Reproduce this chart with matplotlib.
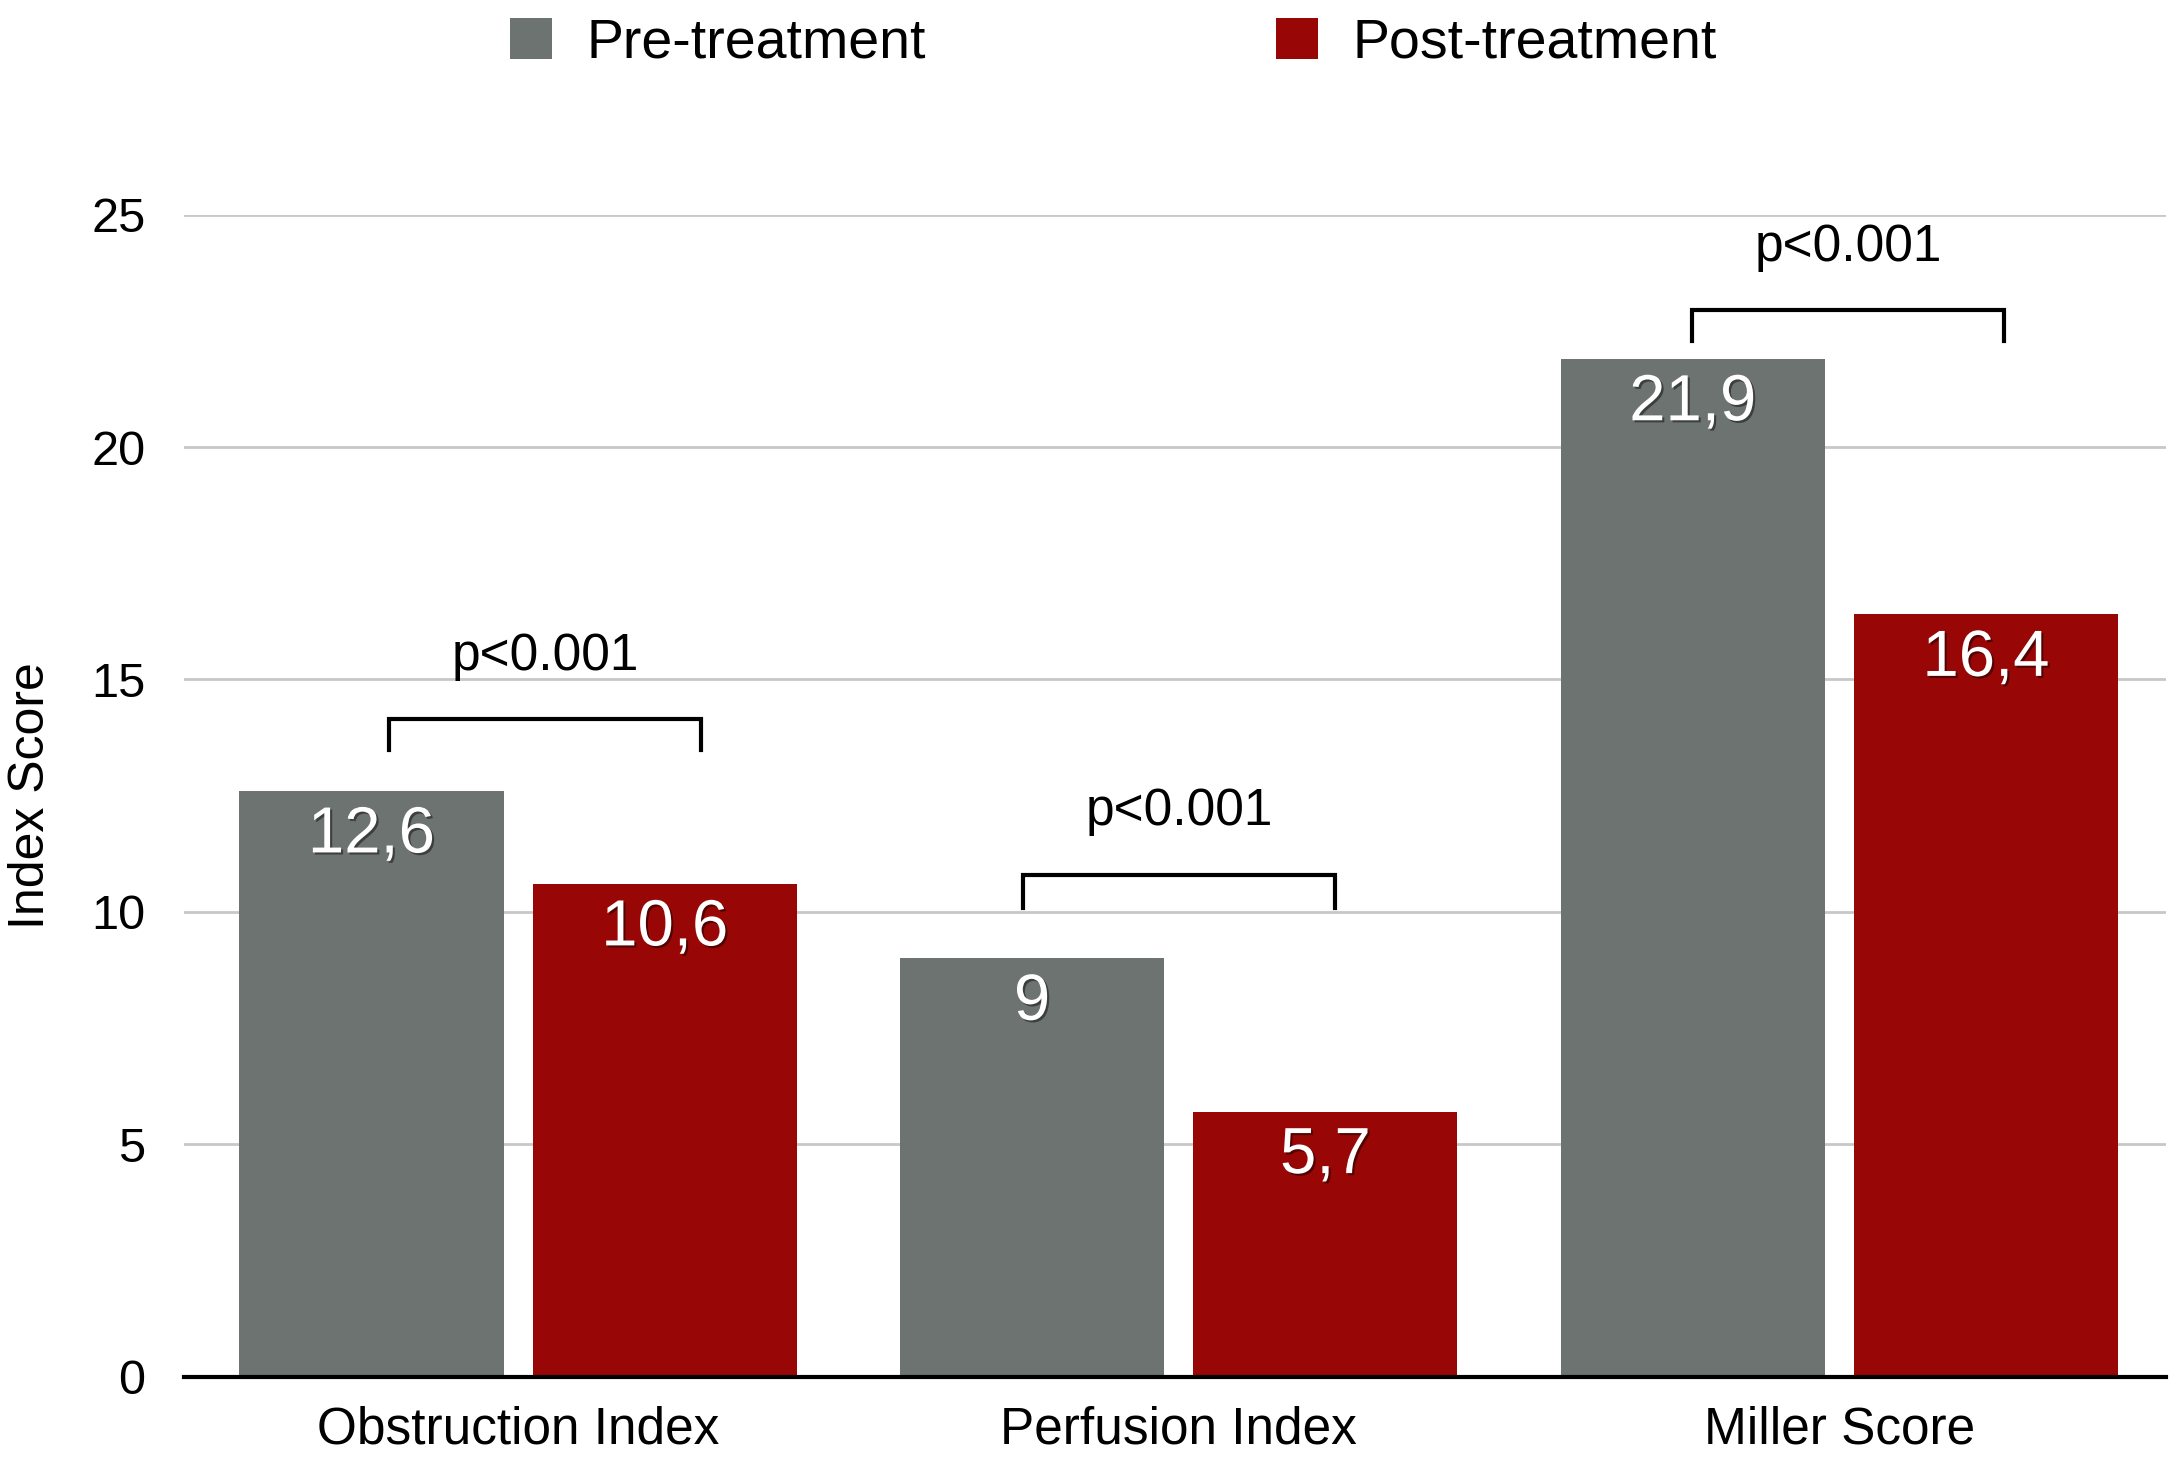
## grouped bar chart: index scores before / after treatment
import matplotlib
matplotlib.use("Agg")
from matplotlib import pyplot as plt
from matplotlib.patches import Patch
import matplotlib.patheffects as pe
import numpy as np

plt.rcParams['font.family'] = ['Liberation Sans', 'DejaVu Sans']

categories = ["Obstruction Index", "Perfusion Index", "Miller Score"]
pre_values = [12.6, 9.0, 21.9]
post_values = [10.6, 5.7, 16.4]
pre_labels = ["12,6", "9", "21,9"]
post_labels = ["10,6", "5,7", "16,4"]
series_names = ["Pre-treatment", "Post-treatment"]
y_ticks = [0, 5, 10, 15, 20, 25]

# significance brackets: (left offset, right offset, top, foot) per group
p_text = "p<0.001"
bracket_left = [-0.195, -0.235, -0.223]
bracket_right = [0.277, 0.237, 0.250]
bracket_top = [14.14, 10.8, 22.94]
bracket_foot = [13.48, 10.08, 22.28]

grey = "#6d7370"
red = "#990606"

fig = plt.figure(figsize=(21.75, 14.61), dpi=100)
ax = fig.add_axes([0.0848, 0.0578, 0.9112, 0.7952])

x = np.arange(len(categories))
w = 0.40
off = 0.222
ax.bar(x - off, pre_values, w, color=grey, zorder=2)
ax.bar(x + off, post_values, w, color=red, zorder=2)

shadow = [pe.withSimplePatchShadow(offset=(1.5, -1.5), shadow_rgbFace="black", alpha=0.45)]
for i in range(len(categories)):
    ax.annotate(pre_labels[i], (x[i] - off, pre_values[i]), xytext=(0, -32),
                textcoords="offset points", ha="center", va="center",
                color="white", fontsize=47, path_effects=shadow, zorder=3)
    ax.annotate(post_labels[i], (x[i] + off, post_values[i]), xytext=(0, -32),
                textcoords="offset points", ha="center", va="center",
                color="white", fontsize=47, path_effects=shadow, zorder=3)
    # bracket
    xl = x[i] + bracket_left[i]
    xr = x[i] + bracket_right[i]
    ax.plot([xl, xl, xr, xr], [bracket_foot[i], bracket_top[i], bracket_top[i], bracket_foot[i]],
            color="black", lw=3, solid_joinstyle="miter", clip_on=False, zorder=3)
    ax.text((xl + xr) / 2, bracket_top[i] + 1.35, p_text, ha="center", va="center",
            fontsize=37, color="black")

ax.set_xlim(-0.505, 2.495)
ax.set_ylim(0, 25)
ax.set_yticks(y_ticks)
ax.set_xticks(x)
ax.set_xticklabels(categories, fontsize=37)
ax.tick_params(axis="y", length=0, pad=28, labelsize=35)
ax.tick_params(axis="x", length=0, pad=21)
ax.grid(axis="y", color="#c8c8c8", lw=2, zorder=0)
for s in ["top", "right", "left"]:
    ax.spines[s].set_visible(False)
ax.spines["bottom"].set_linewidth(3)
ax.spines["bottom"].set_zorder(4)
ax.set_ylabel("Index Score", fontsize=36)
ax.yaxis.set_label_coords(-0.066, 0.5)

handles = [Patch(facecolor=grey), Patch(facecolor=red)]
fig.legend(handles, series_names, loc="center", bbox_to_anchor=(0.512, 0.970),
           ncol=2, frameon=False, fontsize=40, handlelength=0.75, handleheight=0.75,
           handletextpad=0.63, columnspacing=6.3)

plt.savefig("out.png", dpi=100)
